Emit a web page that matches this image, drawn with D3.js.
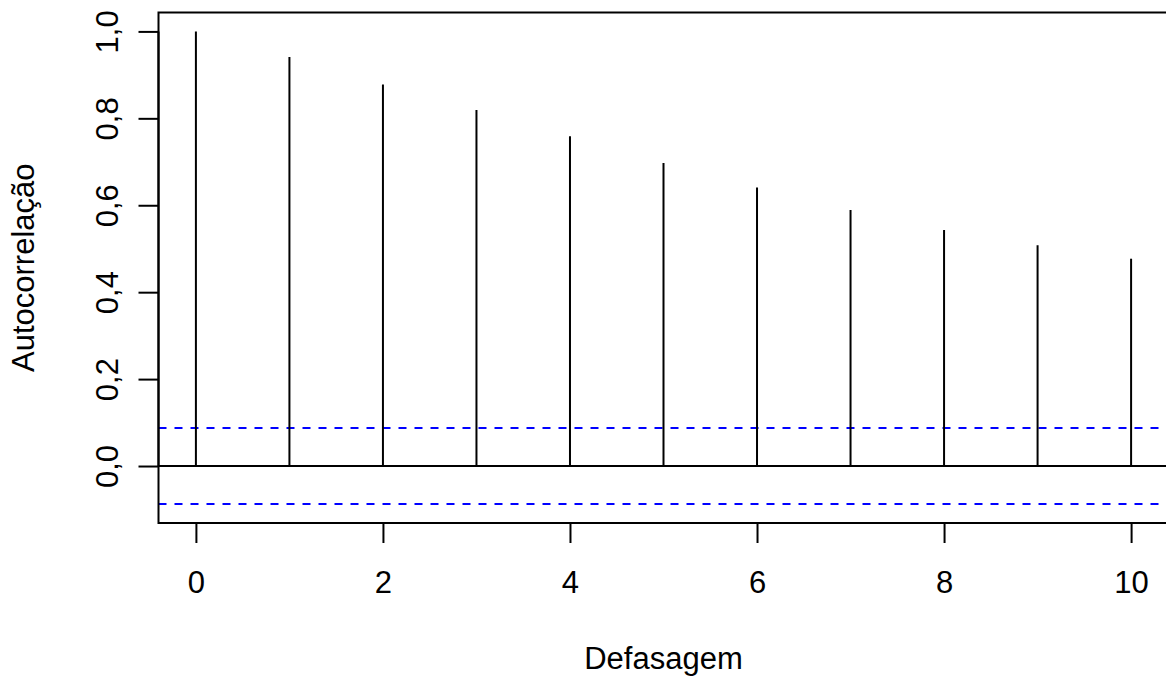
<!DOCTYPE html>
<html>
<head>
<meta charset="utf-8">
<script src="https://cdn.jsdelivr.net/npm/d3@7"></script>
<style>
  html, body { margin: 0; padding: 0; background: #fff; }
  svg { display: block; }
  text { font-family: "Liberation Sans", Arial, Helvetica, sans-serif; fill: #000; }
</style>
</head>
<body>
<svg id="chart" width="1166" height="677"></svg>
<script>
// Data
const lags = [0, 1, 2, 3, 4, 5, 6, 7, 8, 9, 10];
const acfValues = [1.0, 0.941, 0.878, 0.819, 0.759, 0.697, 0.641, 0.589, 0.543, 0.508, 0.477];
const ciBound = 0.0876;
const xTicks = [0, 2, 4, 6, 8, 10];
const yTicks = [0, 0.2, 0.4, 0.6, 0.8, 1.0];
const xLabel = "Defasagem";
const yLabel = "Autocorrelação";

const W = 1166, H = 677;
const plot = { left: 158.5, right: 1168.5, top: 12.5, bottom: 523 };
const FS = "31px";

const svg = d3.select("#chart");

// R-style 4% padding on data range
const xDom = [0, 10];
const xPad = (xDom[1] - xDom[0]) * 0.04;
const x = d3.scaleLinear().domain([xDom[0] - xPad, xDom[1] + xPad]).range([plot.left, plot.right]);
const yDom = [-ciBound, 1];
const yPad = (yDom[1] - yDom[0]) * 0.04;
const y = d3.scaleLinear().domain([yDom[0] - yPad, yDom[1] + yPad]).range([plot.bottom, plot.top]);

const fmt = d => d3.format(".1f")(d).replace(".", ",");

// Zero line (plot region)
svg.append("line")
  .attr("x1", plot.left).attr("x2", W)
  .attr("y1", y(0)).attr("y2", y(0))
  .attr("stroke", "#000").attr("stroke-width", 2);

// Confidence bounds
[ciBound, -ciBound].forEach(v => {
  svg.append("line")
    .attr("x1", plot.left).attr("x2", W)
    .attr("y1", y(v)).attr("y2", y(v))
    .attr("stroke", "#0000ff").attr("stroke-width", 2)
    .attr("stroke-dasharray", "8,8");
});

// ACF spikes
svg.selectAll("line.spike")
  .data(lags)
  .enter().append("line")
  .attr("class", "spike")
  .attr("x1", d => x(d)).attr("x2", d => x(d))
  .attr("y1", y(0)).attr("y2", (d, i) => y(acfValues[i]))
  .attr("stroke", "#000").attr("stroke-width", 2);

// Box
svg.append("rect")
  .attr("x", plot.left).attr("y", plot.top)
  .attr("width", plot.right - plot.left).attr("height", plot.bottom - plot.top)
  .attr("fill", "none").attr("stroke", "#000").attr("stroke-width", 2);

// X axis
const xAxis = d3.axisBottom(x).tickValues(xTicks).tickSize(20).tickPadding(0).tickFormat(d3.format("d"));
const gx = svg.append("g").attr("transform", `translate(0,${plot.bottom})`).call(xAxis);
gx.select(".domain")
  .attr("d", `M${x(xTicks[0])},0H${x(xTicks[xTicks.length-1])}`)
  .attr("stroke", "#000").attr("stroke-width", 2);
gx.selectAll(".tick line").attr("stroke", "#000").attr("stroke-width", 2);
gx.selectAll(".tick text")
  .attr("y", 70).attr("dy", null)
  .style("font-size", FS).style("font-family", '"Liberation Sans", Arial, sans-serif').attr("fill", "#000");

// Y axis
const yAxis = d3.axisLeft(y).tickValues(yTicks).tickSize(20).tickFormat(fmt);
const gy = svg.append("g").attr("transform", `translate(${plot.left},0)`).call(yAxis);
gy.select(".domain")
  .attr("d", `M0,${y(yTicks[0])}V${y(yTicks[yTicks.length-1])}`)
  .attr("stroke", "#000").attr("stroke-width", 2);
gy.selectAll(".tick line").attr("stroke", "#000").attr("stroke-width", 2);
gy.selectAll(".tick text")
  .attr("x", null).attr("dy", null)
  .attr("text-anchor", "middle")
  .attr("transform", "translate(-41,0) rotate(-90)")
  .style("font-size", FS).style("font-family", '"Liberation Sans", Arial, sans-serif').attr("fill", "#000");

// Axis titles
svg.append("text")
  .attr("x", (plot.left + plot.right) / 2).attr("y", 669)
  .attr("text-anchor", "middle")
  .style("font-size", FS)
  .text(xLabel);

svg.append("text")
  .attr("transform", `translate(34,${(plot.top + plot.bottom) / 2}) rotate(-90)`)
  .attr("text-anchor", "middle")
  .style("font-size", FS)
  .text(yLabel);
</script>
</body>
</html>
